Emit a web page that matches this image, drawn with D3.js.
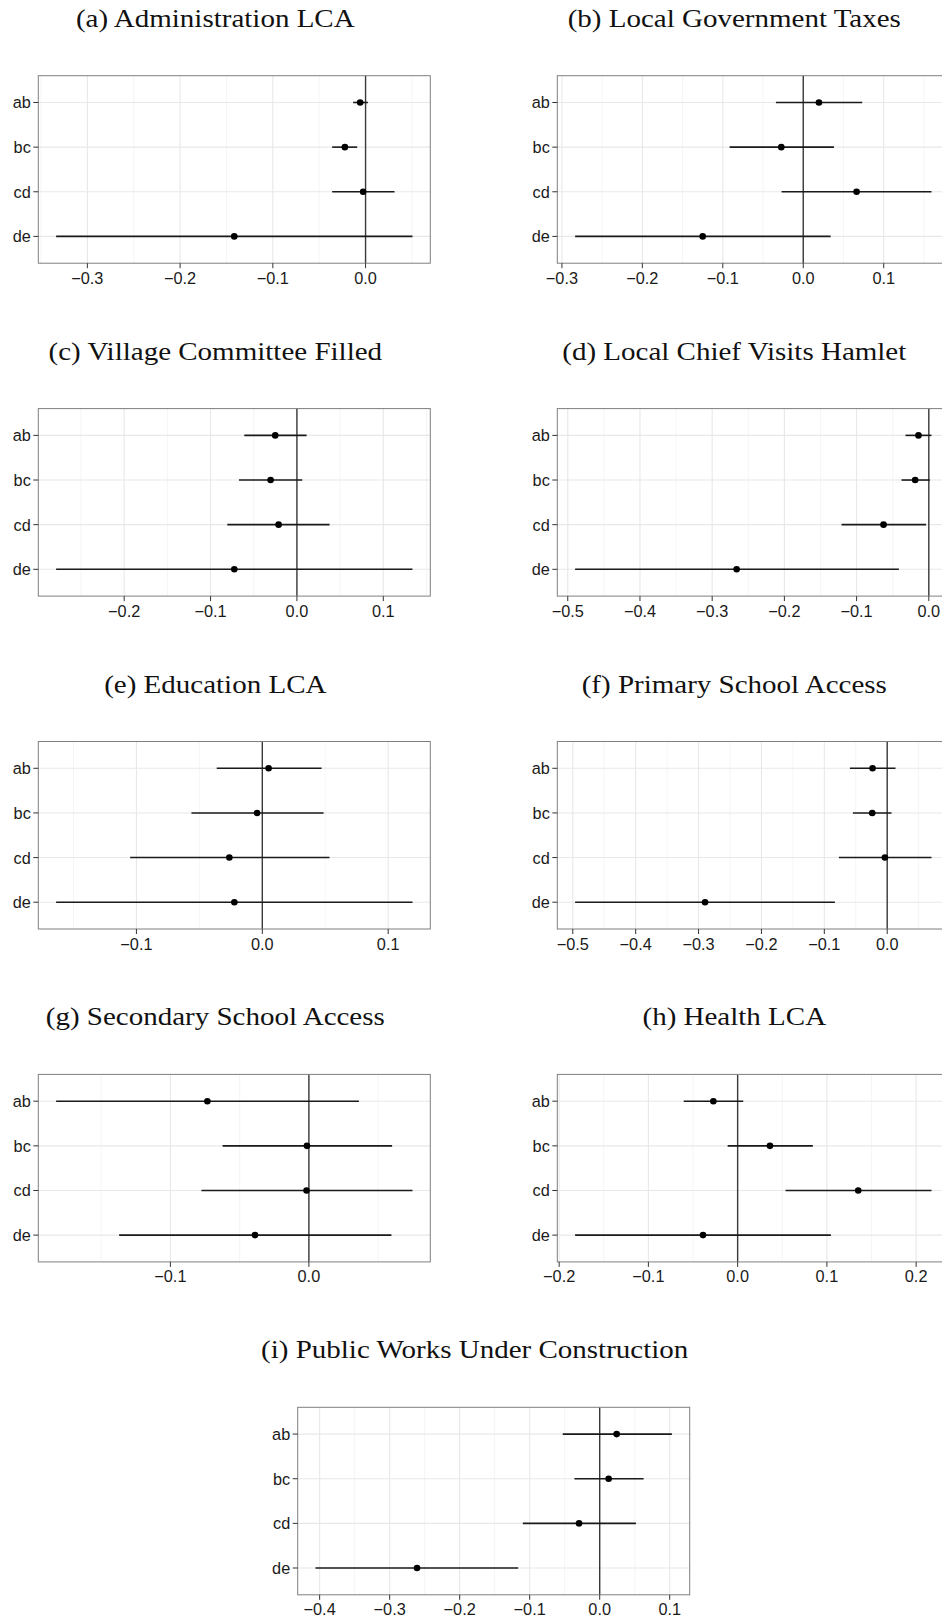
<!DOCTYPE html>
<html>
<head>
<meta charset="utf-8">
<script src="https://cdn.jsdelivr.net/npm/d3@7"></script>
<style>
  html, body { margin: 0; padding: 0; background: #ffffff; overflow: hidden; }
  svg { display: block; }
</style>
</head>
<body>
<svg id="chart" width="942" height="1616"></svg>
<script>
// ---------- data ----------
const categories = ["ab", "bc", "cd", "de"];

const panelTitles = [
  "(a) Administration LCA",
  "(b) Local Government Taxes",
  "(c) Village Committee Filled",
  "(d) Local Chief Visits Hamlet",
  "(e) Education LCA",
  "(f) Primary School Access",
  "(g) Secondary School Access",
  "(h) Health LCA",
  "(i) Public Works Under Construction"
];

// point estimates per panel, in category order ab, bc, cd, de
const pointEstimates = [
  [-0.0058, -0.0223, -0.0026, -0.1416],
  [ 0.0195, -0.0273,  0.0663, -0.1250],
  [-0.0251, -0.0305, -0.0212, -0.0725],
  [-0.0143, -0.0189, -0.0627, -0.2661],
  [ 0.0050, -0.0042, -0.0262, -0.0222],
  [-0.0233, -0.0238, -0.0037, -0.2897],
  [-0.0733, -0.0014, -0.0017, -0.0389],
  [-0.0272,  0.0362,  0.1351, -0.0388],
  [ 0.0242,  0.0128, -0.0295, -0.2609]
];

const lowerBounds = [
  [-0.0134, -0.0360, -0.0360, -0.3337],
  [-0.0340, -0.0915, -0.0269, -0.2836],
  [-0.0609, -0.0671, -0.0806, -0.2788],
  [-0.0323, -0.0378, -0.1208, -0.4898],
  [-0.0362, -0.0563, -0.1050, -0.1638],
  [-0.0593, -0.0546, -0.0768, -0.4963],
  [-0.1825, -0.0623, -0.0776, -0.1370],
  [-0.0604, -0.0112,  0.0537, -0.1821],
  [-0.0528, -0.0361, -0.1098, -0.4059]
];

const upperBounds = [
  [ 0.0025, -0.0090,  0.0312,  0.0506],
  [ 0.0733,  0.0381,  0.1594,  0.0340],
  [ 0.0112,  0.0062,  0.0378,  0.1338],
  [ 0.0037,  0.0014, -0.0037, -0.0415],
  [ 0.0471,  0.0487,  0.0534,  0.1193],
  [ 0.0132,  0.0069,  0.0704, -0.0832],
  [ 0.0361,  0.0601,  0.0748,  0.0596],
  [ 0.0063,  0.0843,  0.2172,  0.1045],
  [ 0.1031,  0.0627,  0.0518, -0.1164]
];

// x-axis tick labels per panel
const xTicks = [
  [-0.3, -0.2, -0.1, 0.0],
  [-0.3, -0.2, -0.1, 0.0, 0.1],
  [-0.2, -0.1, 0.0, 0.1],
  [-0.5, -0.4, -0.3, -0.2, -0.1, 0.0],
  [-0.1, 0.0, 0.1],
  [-0.5, -0.4, -0.3, -0.2, -0.1, 0.0],
  [-0.1, 0.0],
  [-0.2, -0.1, 0.0, 0.1, 0.2],
  [-0.4, -0.3, -0.2, -0.1, 0.0, 0.1]
];

// ---------- layout ----------
const panelW = 392, panelH = 187.5;
const colX = [38.3, 557.3];
const bottomX = 297.7;
const firstTop = 75.7, rowStep = 332.9;
const titleWiden = 1.16; // serif titles in the reference are set in a wider face

const svg = d3.select("#chart");
const fmt = d3.format(".1f");

panelTitles.forEach((title, i) => {
  const row = Math.floor(i / 2);
  const px = i === 8 ? bottomX : colX[i % 2];
  const py = firstTop + row * rowStep;

  const lo = d3.min(lowerBounds[i]), hi = d3.max(upperBounds[i]);
  const pad = (hi - lo) * 0.05;
  const x = d3.scaleLinear().domain([lo - pad, hi + pad]).range([0, panelW]);
  const y = d3.scalePoint().domain(categories).range([0, panelH]).padding(0.6);

  const g = svg.append("g").attr("transform", `translate(${px},${py})`);

  // title
  const t = svg.append("text")
    .attr("x", px + panelW / 2 - 19)
    .attr("y", py - 49)
    .attr("text-anchor", "middle")
    .attr("font-family", "'Liberation Serif', 'DejaVu Serif', serif")
    .attr("font-size", 25)
    .attr("fill", "#111")
    .text(title);
  const tl = t.node().getComputedTextLength();
  t.attr("textLength", tl * titleWiden).attr("lengthAdjust", "spacingAndGlyphs");

  // background
  g.append("rect").attr("width", panelW).attr("height", panelH).attr("fill", "#fff");

  // minor gridlines
  const ticks = xTicks[i];
  const step = ticks.length > 1 ? ticks[1] - ticks[0] : 0.1;
  const minors = [];
  for (let v = ticks[0] - step / 2; v <= ticks[ticks.length - 1] + step / 2 + 1e-9; v += step) {
    const dom = x.domain();
    if (v >= dom[0] && v <= dom[1]) minors.push(v);
  }
  g.selectAll(".minor").data(minors).enter().append("line")
    .attr("x1", d => x(d)).attr("x2", d => x(d))
    .attr("y1", 0).attr("y2", panelH)
    .attr("stroke", "#f3f3f3").attr("stroke-width", 0.8);

  // major gridlines
  g.selectAll(".vmajor").data(ticks).enter().append("line")
    .attr("x1", d => x(d)).attr("x2", d => x(d))
    .attr("y1", 0).attr("y2", panelH)
    .attr("stroke", "#e8e8e8").attr("stroke-width", 1.1);
  g.selectAll(".hmajor").data(categories).enter().append("line")
    .attr("x1", 0).attr("x2", panelW)
    .attr("y1", d => y(d)).attr("y2", d => y(d))
    .attr("stroke", "#e8e8e8").attr("stroke-width", 1.1);

  // zero line
  g.append("line")
    .attr("x1", x(0)).attr("x2", x(0))
    .attr("y1", 0).attr("y2", panelH)
    .attr("stroke", "#3a3a3a").attr("stroke-width", 1.4);

  // error bars
  const rows = categories.map((c, k) => ({ c, est: pointEstimates[i][k], lo: lowerBounds[i][k], hi: upperBounds[i][k] }));
  g.selectAll(".bar").data(rows).enter().append("line")
    .attr("x1", d => x(d.lo)).attr("x2", d => x(d.hi))
    .attr("y1", d => y(d.c)).attr("y2", d => y(d.c))
    .attr("stroke", "#1a1a1a").attr("stroke-width", 1.6);
  g.selectAll(".pt").data(rows).enter().append("circle")
    .attr("cx", d => x(d.est)).attr("cy", d => y(d.c))
    .attr("r", 3.3).attr("fill", "#000");

  // border
  g.append("rect").attr("width", panelW).attr("height", panelH)
    .attr("fill", "none").attr("stroke", "#7f7f7f").attr("stroke-width", 1);

  // x axis
  const xa = g.append("g").attr("transform", `translate(0,${panelH})`);
  xa.selectAll("line").data(ticks).enter().append("line")
    .attr("x1", d => x(d)).attr("x2", d => x(d))
    .attr("y1", 0).attr("y2", 5)
    .attr("stroke", "#333").attr("stroke-width", 1);
  xa.selectAll("text").data(ticks).enter().append("text")
    .attr("x", d => x(d)).attr("y", 20.5)
    .attr("text-anchor", "middle")
    .attr("font-family", "'Liberation Sans', Arial, sans-serif")
    .attr("font-size", 16.3)
    .attr("fill", "#1a1a1a")
    .text(d => fmt(d));

  // y axis
  const ya = g.append("g");
  ya.selectAll("line").data(categories).enter().append("line")
    .attr("x1", -5).attr("x2", 0)
    .attr("y1", d => y(d)).attr("y2", d => y(d))
    .attr("stroke", "#333").attr("stroke-width", 1);
  ya.selectAll("text").data(categories).enter().append("text")
    .attr("x", -7.5).attr("y", d => y(d) + 6)
    .attr("text-anchor", "end")
    .attr("font-family", "'Liberation Sans', Arial, sans-serif")
    .attr("font-size", 16.3)
    .attr("fill", "#1a1a1a")
    .text(d => d);
});
</script>
</body>
</html>
